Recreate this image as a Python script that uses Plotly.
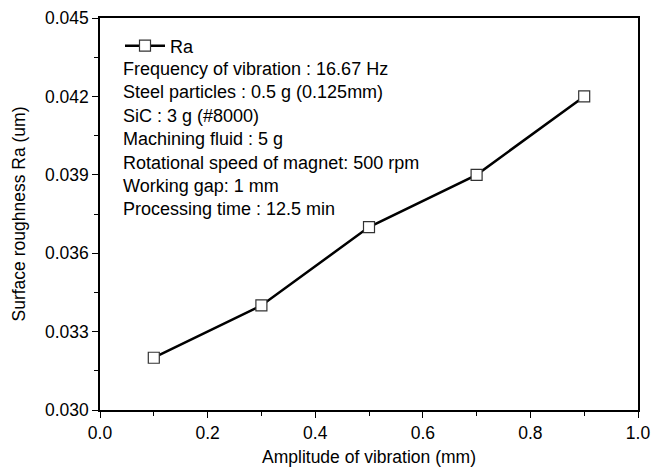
import plotly.graph_objects as go

amplitude = [0.1, 0.3, 0.5, 0.7, 0.9]
ra = [0.032, 0.034, 0.037, 0.039, 0.042]
notes = [
    "Frequency of vibration : 16.67 Hz",
    "Steel particles : 0.5 g (0.125mm)",
    "SiC : 3 g (#8000)",
    "Machining fluid : 5 g",
    "Rotational speed of magnet: 500 rpm",
    "Working gap: 1 mm",
    "Processing time : 12.5 min",
]

FONT = "Liberation Sans, Arial, sans-serif"
L, R, T, B = 100, 26, 18, 57
W, H = 664, 467
pw = W - L - R
ph = H - T - B

fig = go.Figure()
fig.add_trace(go.Scatter(
    x=amplitude, y=ra, name="Ra", mode="lines+markers",
    line=dict(color="black", width=2.5),
    marker=dict(symbol="square", size=11, color="white",
                line=dict(color="#333", width=1.2)),
))

for i, t in enumerate(notes):
    ypix = 69 + 23.4 * i
    fig.add_annotation(
        text=t, xref="paper", yref="paper",
        x=(121 - L) / pw, y=(H - B - ypix) / ph,
        xanchor="left", yanchor="middle", showarrow=False,
        font=dict(family=FONT, size=18, color="black"),
    )

fig.update_layout(
    width=W, height=H,
    margin=dict(l=L, r=R, t=T, b=B, autoexpand=False),
    paper_bgcolor="white", plot_bgcolor="white",
    font=dict(family=FONT, color="black"),
    showlegend=True,
    legend=dict(x=(120 - L) / pw, y=(H - B - 46) / ph, xanchor="left", yanchor="middle",
                bgcolor="rgba(0,0,0,0)", font=dict(size=18, family=FONT),
                itemwidth=40, borderwidth=0),
)
fig.update_xaxes(
    range=[0, 1.0], dtick=0.2, tick0=0, tickformat=".1f",
    showgrid=False, zeroline=False, automargin=False,
    showline=True, linecolor="black", linewidth=1.5, mirror=True,
    ticks="outside", ticklen=6, tickwidth=1.2, tickcolor="black",
    minor=dict(dtick=0.1, ticks="outside", ticklen=4, tickcolor="black", tickwidth=1),
    tickfont=dict(size=17.5, family=FONT),
    title=dict(text="Amplitude of vibration (mm)", font=dict(size=17.5, family=FONT)),
)
fig.update_yaxes(
    range=[0.030, 0.045], dtick=0.003, tick0=0.030, tickformat=".3f",
    showgrid=False, zeroline=False, automargin=False,
    showline=True, linecolor="black", linewidth=1.5, mirror=True,
    ticks="outside", ticklen=6, tickwidth=1.2, tickcolor="black",
    minor=dict(dtick=0.0015, ticks="outside", ticklen=4, tickcolor="black", tickwidth=1),
    tickfont=dict(size=17.5, family=FONT),
    title=dict(text="Surface roughness Ra (um)", font=dict(size=17.5, family=FONT)),
)

fig.write_html("out.html")
